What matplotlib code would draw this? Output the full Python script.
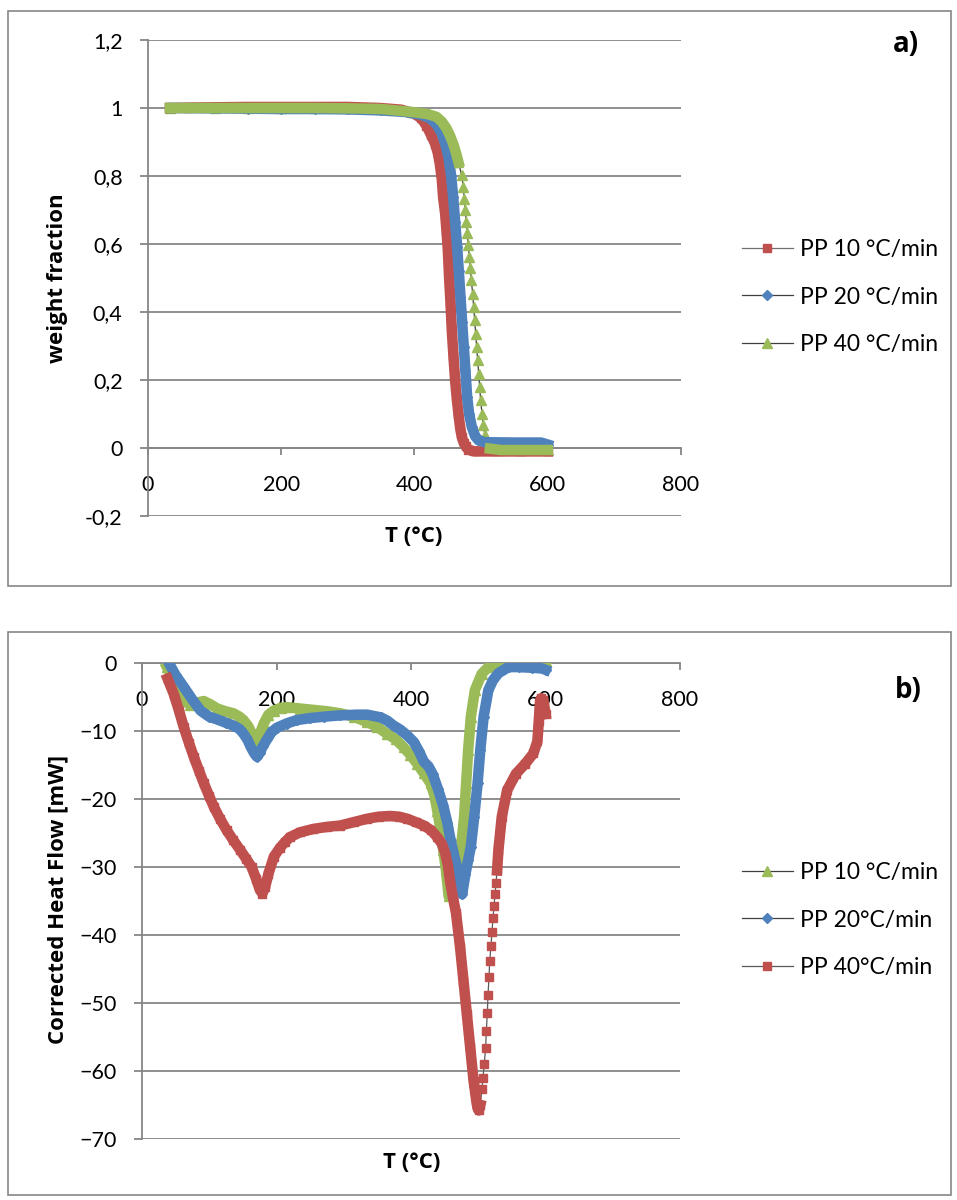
import matplotlib as mpl

mpl.use("agg")

import matplotlib.pyplot as plt
from matplotlib.patches import Rectangle
import numpy as np

plt.rcParams["font.family"] = ["Lato", "DejaVu Sans"]
BOLD = ["Open Sans", "DejaVu Sans"]

W, H = 957, 1200
RED = "#C0504D"
BLUE = "#4F81BD"
GREEN = "#9BBB59"
GRID = "#868686"

# ---- a) weight fraction vs T ----
t_a_10 = [33, 60, 100, 150, 200, 250, 300, 348, 380, 398,
          410, 418, 425, 431, 435, 438, 441, 443, 446, 448,
          450, 452, 454, 456, 458.5, 461, 463.5, 466, 468.5, 471,
          474, 477, 481, 490, 520, 560, 600]
w_a_10 = [1.0, 1.001, 1.002, 1.003, 1.003, 1.003, 1.003, 1.0, 0.995, 0.985,
          0.97, 0.948, 0.92, 0.895, 0.868, 0.836, 0.79, 0.738, 0.69, 0.64,
          0.585, 0.5, 0.43, 0.346, 0.27, 0.199, 0.145, 0.1, 0.06, 0.032,
          0.015, 0.005, -0.005, -0.01, -0.01, -0.01, -0.01]

t_a_20 = [35, 100, 150, 200, 250, 300, 350, 388, 410, 423,
          433, 441, 446, 451, 455, 458, 461, 464, 466.5, 469,
          471.5, 474, 476.5, 479, 482, 486, 491, 496, 505, 550,
          590, 600]
w_a_20 = [1.0, 0.999, 0.998, 0.997, 0.997, 0.996, 0.993, 0.988, 0.98, 0.97,
          0.952, 0.925, 0.895, 0.856, 0.8, 0.738, 0.665, 0.591, 0.52, 0.444,
          0.37, 0.297, 0.225, 0.15, 0.1, 0.062, 0.035, 0.023, 0.017, 0.016,
          0.016, 0.01]

t_a_40 = [33, 100, 150, 200, 250, 300, 350, 398, 420, 433,
          441, 448, 453, 458, 462, 466,
          470.8, 473.3, 474.8, 476.3, 477.8, 479.3, 480.8, 482.3, 483.8, 485.3,
          487.3, 488.8, 490.3, 491.8, 493.3, 494.8, 496.3, 497.8, 499.3, 501.3,
          503.3, 505.8, 509.3, 513.3, 530, 560, 600]
w_a_40 = [1.0, 1.0, 1.0, 1.0, 1.0, 0.999, 0.997, 0.988, 0.982, 0.974,
          0.96, 0.94, 0.92, 0.895, 0.87, 0.84,
          0.802, 0.768, 0.733, 0.699, 0.665, 0.631, 0.596, 0.562, 0.528, 0.493,
          0.454, 0.415, 0.376, 0.336, 0.297, 0.258, 0.219, 0.179, 0.140, 0.101,
          0.067, 0.037, 0.013, -0.002, -0.006, -0.006, -0.006]

a_yticks = [-0.2, 0, 0.2, 0.4, 0.6, 0.8, 1.0, 1.2]
a_ytick_labels = ["-0,2", "0", "0,2", "0,4", "0,6", "0,8", "1", "1,2"]
a_labels = ["PP 10 °C/min", "PP 20 °C/min", "PP 40 °C/min"]

# ---- b) corrected heat flow vs T ----
t_b_10 = [37, 47, 57, 65, 72, 82, 92, 102, 112, 124,
          136, 145, 151, 158, 164, 170, 175, 181, 188, 196,
          206, 216, 235, 255, 275, 295, 315, 335, 350, 364,
          377, 389, 399, 409, 419, 429, 435, 439, 444, 448,
          452, 456, 462, 468, 474, 479, 482, 485, 489, 495,
          505, 515, 530, 550, 570, 590, 600]
q_b_10 = [-0.6, -2.5, -4.5, -5.6, -6.2, -5.8, -5.6, -6.1, -6.7, -7.1,
          -7.4, -7.9, -8.4, -9.3, -10.5, -12.3, -10.5, -8.9, -7.6, -7.0,
          -6.6, -6.5, -6.7, -6.9, -7.1, -7.4, -7.9, -8.7, -9.4, -10.4,
          -11.2, -12.4, -13.5, -14.8, -16.2, -17.7, -19.5, -21.7, -24.5, -27.5,
          -30.5, -34.3, -33.0, -30.5, -27.5, -22.6, -17.7, -12.8, -7.9, -4.0,
          -1.6, -0.6, -0.3, -0.3, -0.2, -0.2, 0.3]

t_b_20 = [40, 50, 62, 75, 87, 100, 112, 125, 136, 145,
          151, 157, 162, 167, 171, 175, 180, 186, 193, 201,
          215, 230, 250, 270, 295, 320, 335, 345, 355, 365,
          374, 384, 394, 404, 412, 419, 426, 432, 440, 448,
          454, 459, 465, 471, 476, 481, 485, 489, 494, 499,
          503, 508, 515, 522, 530, 545, 560, 580, 595, 600]
q_b_20 = [0.0, -1.8, -3.5, -5.4, -7.0, -7.9, -8.3, -8.8, -9.2, -9.7,
          -10.4, -11.3, -12.4, -13.3, -13.8, -13.2, -12.2, -11.2, -10.1, -9.5,
          -8.9, -8.4, -8.1, -7.9, -7.7, -7.6, -7.6, -7.8, -8.0, -8.5,
          -9.2, -9.8, -10.6, -11.6, -13.0, -14.5, -15.2, -16.3, -18.5, -21.0,
          -23.5, -26.1, -28.7, -31.0, -34.0, -31.0, -29.0, -27.0, -22.6, -17.7,
          -12.8, -7.9, -4.0, -2.5, -1.5, -0.6, -0.6, -0.7, -0.8, -1.0]

t_b_40 = [38, 47, 55, 62, 70, 77, 85, 92, 100, 107,
          116, 126, 136, 146, 155, 163, 170, 175, 179, 183,
          188, 196, 205, 213, 220, 235, 255, 275, 295, 315,
          335, 352, 369, 382, 394, 407, 419, 430, 439, 446,
          451, 455, 458, 462, 467, 473, 478, 483, 488, 493,
          497, 499, 501, 503, 505.5, 507, 509, 511, 512, 513.5,
          514.5, 516, 517, 519, 520.4, 522, 523.4, 525, 526.4, 528,
          530, 535, 543, 556, 570, 582, 588, 590, 592, 594,
          597, 600]
q_b_40 = [-2.3, -4.5, -7.0, -9.4, -11.8, -13.8, -15.9, -17.7, -19.6, -21.2,
          -22.9, -24.6, -26.1, -27.5, -28.8, -30.0, -31.8, -33.3, -33.9, -33.0,
          -31.0, -28.5, -27.2, -26.3, -25.6, -24.9, -24.4, -24.1, -23.9, -23.4,
          -22.9, -22.6, -22.5, -22.6, -22.9, -23.4, -23.9, -24.6, -25.6, -26.6,
          -28.0, -29.8, -32.0, -34.3, -36.8, -41.8, -46.7, -51.6, -56.5, -61.4,
          -64.3, -65.5, -65.8, -65.0, -62.6, -61.0, -58.9, -56.6, -54.1, -51.5,
          -48.8, -46.2, -43.8, -41.6, -39.5, -37.5, -35.7, -34.0, -32.4, -30.5,
          -27.5, -22.6, -18.7, -16.3, -14.8, -13.3, -11.5, -8.5, -5.5, -5.2,
          -5.5, -7.5]

b_yticks = [-70, -60, -50, -40, -30, -20, -10, 0]
b_labels = ["PP 10 °C/min", "PP 20°C/min", "PP 40°C/min"]

x_ticks = [0, 200, 400, 600, 800]


def px_axes(fig, left, top, right, bottom):
    return fig.add_axes([left / W, 1 - bottom / H, (right - left) / W, (bottom - top) / H])


def frame(fig, left, top, right, bottom):
    fig.patches.append(Rectangle((left / W, 1 - bottom / H), (right - left) / W,
                                 (bottom - top) / H, transform=fig.transFigure,
                                 fill=False, ec=GRID, lw=1.2))


def style_axes(ax, ylim, yticks):
    ax.set_xlim(0, 800)
    ax.set_ylim(*ylim)
    ax.set_xticks(x_ticks)
    ax.set_yticks(yticks)
    ax.set_axisbelow(True)
    ax.grid(axis="y", color=GRID, lw=1.3)
    ax.grid(axis="x", visible=False)
    for s in ["top", "right"]:
        ax.spines[s].set_visible(False)
    ax.spines["left"].set_color(GRID)
    ax.spines["left"].set_linewidth(1.3)
    ax.spines["bottom"].set_position(("data", 0))
    ax.spines["bottom"].set_color(GRID)
    ax.spines["bottom"].set_linewidth(1.3)
    ax.tick_params(axis="x", direction="out", length=5.2, width=1.3, color=GRID,
                   pad=14, labelsize=15.5)
    ax.tick_params(axis="y", direction="out", length=5.8, width=1.3, color=GRID,
                   pad=12.5, labelsize=15.5)


def series(ax, t, v, color, marker, ms, label, sparse=None, line="#404040"):
    t = np.asarray(t, float)
    v = np.asarray(v, float)
    h, = ax.plot(t, v, color=line, lw=0.9, marker=marker, ms=ms, mfc=color,
                 mec=color, zorder=2, label=label)
    band = v.copy()
    if sparse is not None:
        band[(t > sparse[0]) & (t < sparse[1])] = np.nan
    ax.plot(t, band, color=color, lw=7.6, solid_capstyle="projecting",
            solid_joinstyle="round", zorder=3)
    return h


def legend(ax, handles, labels, ycenter):
    ax.legend(handles, labels, loc="center left",
              bbox_to_anchor=(742 / W, 1 - ycenter / H),
              bbox_transform=ax.figure.transFigure, frameon=False,
              fontsize=16.5, handlelength=2.22, handletextpad=0.3,
              labelspacing=1.14, borderpad=0, borderaxespad=0)


def bold_text(fig, x, y, s, size=16, rotation=0):
    fig.text(x / W, 1 - y / H, s, rotation=rotation, ha="center", va="center",
             fontsize=size, fontweight="bold", family=BOLD)


fig = plt.figure(figsize=(W / 100, H / 100), dpi=100)

# panel a
frame(fig, 8, 11, 951, 586)
ax1 = px_axes(fig, 148, 40, 681, 516)
style_axes(ax1, (-0.2, 1.2), a_yticks)
ax1.set_yticklabels(a_ytick_labels)
h1 = series(ax1, t_a_10, w_a_10, RED, "s", 6, a_labels[0], line="#6f6f6f")
h2 = series(ax1, t_a_20, w_a_20, BLUE, "D", 5.4, a_labels[1])
h3 = series(ax1, t_a_40, w_a_40, GREEN, "^", 7.5, a_labels[2], sparse=(469, 512))
legend(ax1, [h1, h2, h3], a_labels, 297)
bold_text(fig, 58, 278, "weight fraction", rotation=90)
bold_text(fig, 414, 537, "T (°C)")
bold_text(fig, 906, 45, "a)", size=20)

# panel b
frame(fig, 8, 632, 951, 1195)
ax2 = px_axes(fig, 142, 663, 680, 1139)
style_axes(ax2, (-70, 0), b_yticks)
g1 = series(ax2, t_b_10, q_b_10, GREEN, "^", 7.5, b_labels[0])
g2 = series(ax2, t_b_20, q_b_20, BLUE, "D", 5.4, b_labels[1])
g3 = series(ax2, t_b_40, q_b_40, RED, "s", 6.2, b_labels[2], sparse=(504, 527),
            line="#5a5a5a")
legend(ax2, [g1, g2, g3], b_labels, 920)
bold_text(fig, 58, 900, "Corrected Heat Flow [mW]", rotation=90)
bold_text(fig, 412, 1162, "T (°C)")
bold_text(fig, 908, 690, "b)", size=20)

fig.savefig("out.png", dpi=100)
